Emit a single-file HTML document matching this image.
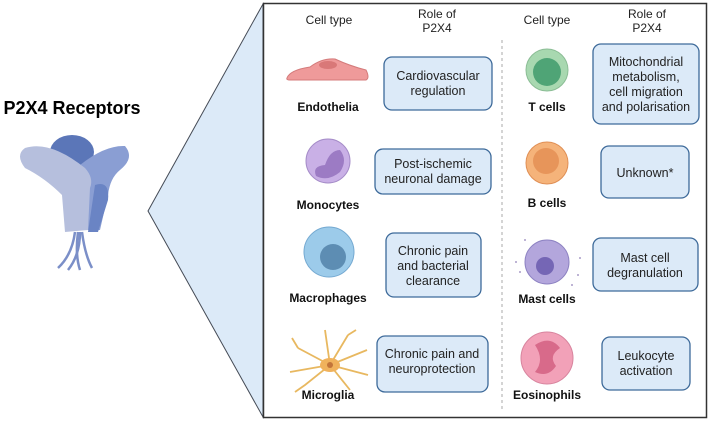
<!DOCTYPE html>
<html><head><style>
body{margin:0;width:712px;height:423px;background:#fff;overflow:hidden;font-family:"Liberation Sans",sans-serif}
</style></head><body>
<svg width="712" height="423" viewBox="0 0 712 423" xmlns="http://www.w3.org/2000/svg" font-family="Liberation Sans, sans-serif">
<polygon points="148,211 263,4 263,417" fill="#dceaf8" stroke="#444a55" stroke-width="1"/>
<rect x="263.5" y="3.5" width="443" height="414" fill="#fff" stroke="#333" stroke-width="1.5"/>
<line x1="502" y1="40" x2="502" y2="412" stroke="#aaa" stroke-dasharray="3,3"/>
<text x="72" y="114" font-size="18" font-weight="bold" text-anchor="middle">P2X4 Receptors</text>
<!-- receptor -->
<g>
<ellipse cx="72" cy="152" rx="22" ry="17" fill="#5b76b8"/>
<path d="M80,165 Q105,145 125,146 Q135,158 120,170 Q110,178 108,195 L100,230 L80,230 Z" fill="#8a9ed3"/>
<path d="M95,185 Q110,180 108,200 L98,232 L88,232 Z" fill="#6a84c4"/>
<path d="M25,148 Q50,140 85,168 Q94,178 90,188 L88,230 L65,232 L62,195 Q45,178 25,168 Q15,155 25,148Z" fill="#b6bfdd"/>
<g fill="none" stroke="#7b8fc8" stroke-width="2.5">
<path d="M75,232 Q72,255 58,268"/><path d="M80,232 Q80,255 68,270"/><path d="M82,232 Q85,255 92,268"/><path d="M78,232 Q75,255 80,270"/>
</g>
</g>
<g font-size="12" text-anchor="middle" fill="#222">
<text x="329" y="24">Cell type</text>
<text x="437" y="18">Role of</text><text x="437" y="32">P2X4</text>
<text x="547" y="24">Cell type</text>
<text x="647" y="18">Role of</text><text x="647" y="32">P2X4</text>
</g>
<!-- cells -->
<path d="M287,78 Q290,70 310,67 Q322,58 335,59 Q350,66 366,70 Q370,78 366,80 L290,80 Q286,80 287,78Z" fill="#ef9a9a" stroke="#d47b7b"/>
<ellipse cx="328" cy="65" rx="9" ry="4" fill="#d97878"/>
<circle cx="328" cy="161" r="22" fill="#c9b0e6" stroke="#a58cc8"/>
<path d="M325,165 Q330,150 340,150 Q348,160 340,172 Q328,182 316,176 Q312,166 325,165Z" fill="#9c7bc4"/>
<circle cx="329" cy="252" r="25" fill="#9ccbea" stroke="#74a9d1"/>
<circle cx="333" cy="257" r="13" fill="#5d8db3"/>
<g stroke="#e8b860" stroke-width="1.8" fill="none">
<path d="M330,365 L298,348 M330,365 L290,372 M330,365 L305,385 M330,365 L325,330 M330,365 L348,335 M330,365 L367,350 M330,365 L368,375 M330,365 L350,390 M305,385 L295,392 M298,348 L292,338 M348,335 L356,330"/>
</g>
<ellipse cx="330" cy="365" rx="10" ry="7" fill="#f0b25c"/>
<circle cx="330" cy="365" r="3" fill="#c2753a"/>
<circle cx="547" cy="70" r="21" fill="#a8d8b0" stroke="#8bbd95"/>
<circle cx="547" cy="72" r="14" fill="#4fa476"/>
<circle cx="547" cy="163" r="21" fill="#f5b37a" stroke="#e08f55"/>
<circle cx="546" cy="161" r="13" fill="#e7955a"/>
<circle cx="547" cy="262" r="22" fill="#b3a6dc" stroke="#8d82c2"/>
<circle cx="545" cy="266" r="9" fill="#7566b5"/>
<g fill="#a99cc8"><circle cx="516" cy="262" r="1"/><circle cx="520" cy="272" r="1"/><circle cx="580" cy="258" r="1"/><circle cx="578" cy="275" r="1"/><circle cx="525" cy="240" r="1"/><circle cx="572" cy="285" r="1"/></g>
<circle cx="547" cy="358" r="26" fill="#f2a1b8" stroke="#d8849e"/>
<path d="M535,345 Q550,335 560,348 Q548,356 556,366 Q548,378 535,372 Q545,360 535,345Z" fill="#d86a8a"/>
<g font-size="12" font-weight="bold" text-anchor="middle" fill="#111">
<text x="328" y="111">Endothelia</text>
<text x="328" y="209">Monocytes</text>
<text x="328" y="302">Macrophages</text>
<text x="328" y="399">Microglia</text>
<text x="547" y="111">T cells</text>
<text x="547" y="207">B cells</text>
<text x="547" y="303">Mast cells</text>
<text x="547" y="399">Eosinophils</text>
</g>
<g fill="#dceaf8" stroke="#3d6a9a" stroke-width="1.3">
<rect x="384" y="57" width="108" height="53" rx="8"/>
<rect x="375" y="149" width="116" height="45" rx="8"/>
<rect x="386" y="233" width="95" height="64" rx="8"/>
<rect x="377" y="336" width="111" height="56" rx="8"/>
<rect x="593" y="44" width="106" height="80" rx="8"/>
<rect x="601" y="146" width="88" height="52" rx="8"/>
<rect x="593" y="238" width="105" height="53" rx="8"/>
<rect x="602" y="337" width="88" height="53" rx="8"/>
</g>
<g font-size="12.5" text-anchor="middle" fill="#222">
<text x="438" y="80">Cardiovascular</text><text x="438" y="95">regulation</text>
<text x="433" y="168">Post-ischemic</text><text x="433" y="183">neuronal damage</text>
<text x="433" y="255">Chronic pain</text><text x="433" y="270">and bacterial</text><text x="433" y="285">clearance</text>
<text x="432" y="358">Chronic pain and</text><text x="432" y="373">neuroprotection</text>
<text x="646" y="66">Mitochondrial</text><text x="646" y="81">metabolism,</text><text x="646" y="96">cell migration</text><text x="646" y="111">and polarisation</text>
<text x="645" y="177">Unknown*</text>
<text x="645" y="262">Mast cell</text><text x="645" y="277">degranulation</text>
<text x="646" y="360">Leukocyte</text><text x="646" y="375">activation</text>
</g>
</svg>
</body></html>
